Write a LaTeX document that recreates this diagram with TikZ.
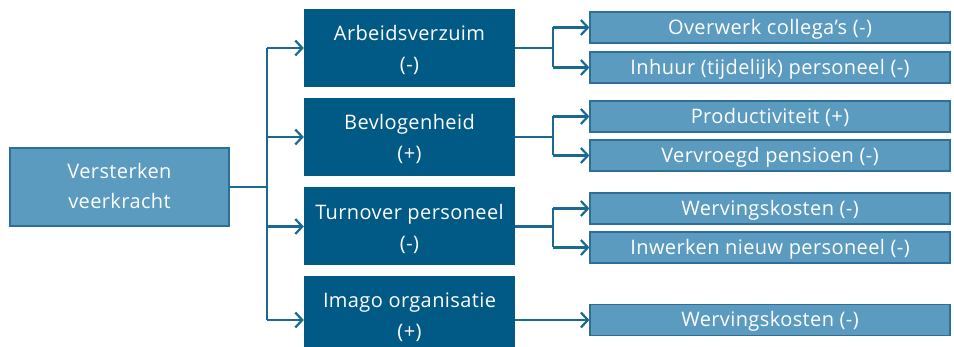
\documentclass[tikz,border=0pt]{standalone}
\usepackage{fontspec}
\setmainfont{Open Sans}[LetterSpace=2]
\usepackage{xcolor}
\usetikzlibrary{arrows.meta, positioning, calc}
\definecolor{donker}{HTML}{005A85}
\definecolor{licht}{HTML}{5B9BBF}
\definecolor{rand}{HTML}{2E6F98}
\definecolor{lijn}{HTML}{1B6893}

\begin{document}
\begin{tikzpicture}[x=1pt, y=-1pt,
  bron/.style={draw=rand, line width=1.2pt, fill=licht, text=white, align=center,
    minimum width=219pt, minimum height=78pt, inner sep=0pt,
    text height=61pt, text depth=17pt, font=\fontsize{20}{30}\selectfont},
  effect/.style={fill=donker, text=white, align=center,
    minimum width=211pt, minimum height=78pt, inner sep=0pt,
    text height=63pt, text depth=15pt, font=\fontsize{20}{31}\selectfont},
  gevolg/.style={draw=rand, line width=1.2pt, fill=licht, text=white,
    minimum width=360pt, minimum height=31pt, inner sep=0pt,
    text height=22pt, text depth=8pt, font=\fontsize{20}{22}\selectfont},
  verbind/.style={draw=lijn, line width=2.2pt},
  pijl/.style={verbind, -{Straight Barb[length=7pt, width=15pt, line width=2.2pt]}}]
  \useasboundingbox (0,0) rectangle (954,347);
  % oorzaak
  \node[bron] (bron) at (119.5,187) {Versterken\\veerkracht};
  % effecten
  \node[effect] (verzuim) at (409.5,48) {Arbeidsverzuim\\(-)};
  \node[effect] (bevlog) at (409.5,137) {Bevlogenheid\\(+)};
  \node[effect] (turnover) at (409.5,226.5) {Turnover personeel\\(-)};
  \node[effect, minimum height=84pt, text depth=21pt] (imago) at (409.5,318) {Imago organisatie\\(+)};
  % gevolgen
  \node[gevolg] (overwerk) at (770,27.5) {Overwerk collega’s (-)};
  \node[gevolg] (inhuur) at (770,67.5) {Inhuur (tijdelijk) personeel (-)};
  \node[gevolg] (product) at (770,116.5) {Productiviteit (+)};
  \node[gevolg] (pensioen) at (770,155.5) {Vervroegd pensioen (-)};
  \node[gevolg] (werving) at (770,208.5) {Wervingskosten (-)};
  \node[gevolg] (inwerken) at (770,247.5) {Inwerken nieuw personeel (-)};
  \node[gevolg] (werving2) at (770,320) {Wervingskosten (-)};
  % stam
  \coordinate (stam) at (267,187);
  \draw[verbind] (bron.east) -- (stam);
  \draw[verbind] (stam |- verzuim.west) -- (stam |- werving2.west);
  \foreach \doel in {verzuim, bevlog, turnover}
    \draw[pijl] (stam |- \doel.west) -- (\doel.west);
  \draw[pijl] (stam |- werving2.west) -- (imago.west |- werving2.west);
  % takken
  \foreach \van/\boven/\onder in {verzuim/overwerk/inhuur, bevlog/product/pensioen, turnover/werving/inwerken} {
    \coordinate (tak) at (553,0);
    \draw[verbind] (\van.east) -- (tak |- \van.east);
    \draw[verbind] (tak |- \boven.west) -- (tak |- \onder.west);
    \draw[pijl] (tak |- \boven.west) -- (\boven.west);
    \draw[pijl] (tak |- \onder.west) -- (\onder.west);
  }
  \draw[pijl] (imago.east |- werving2.west) -- (werving2.west);
\end{tikzpicture}
\end{document}
